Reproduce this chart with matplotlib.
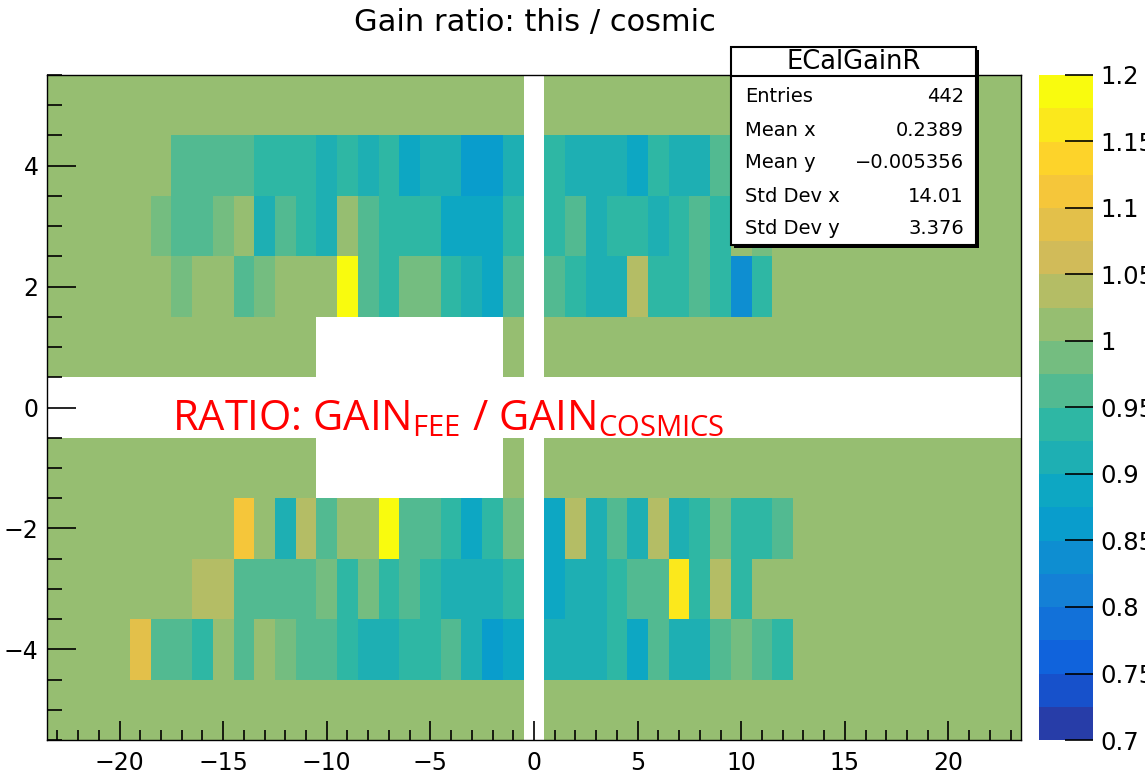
import numpy as np
import matplotlib
matplotlib.use("Agg")
import matplotlib.pyplot as plt
from matplotlib.colors import ListedColormap, BoundaryNorm
from matplotlib.patches import Rectangle
from matplotlib.ticker import MultipleLocator

plt.rcParams['font.family'] = ['DejaVu Sans']
plt.rcParams['mathtext.fontset'] = 'custom'

W, H = 1145, 773

# ---- data: gain ratio per crystal (x = column, y = row) ----
x_bins = np.arange(-23, 24)
y_bins = np.arange(-5, 6)
default_ratio = 1.01          # crystals without a change (green background)
hole_x = np.arange(-10, -1)   # beam hole in rows +-1

row_p4_start = -17
row_p4 = [0.96, 0.96, 0.96, 0.96, 0.94, 0.94, 0.94, 0.91, 0.94, 0.91, 0.94, 0.88, 0.91, 0.91,
          0.86, 0.86, 0.91, 0.94, 0.91, 0.91, 0.91, 0.88, 0.94, 0.91, 0.91, 0.96, 0.94, 0.91]
row_p3_start = -18
row_p3 = [0.99, 0.96, 0.96, 0.99, 1.01, 0.91, 0.96, 0.94, 0.91, 1.01, 0.96, 0.94, 0.94, 0.94,
          0.89, 0.89, 0.89, 0.94, 0.94, 0.96, 0.91, 0.94, 0.94, 0.91, 0.94, 0.96, 0.94, 1.01, 0.99]
row_p2_start = -17
row_p2 = [0.99, 1.01, 1.01, 0.96, 0.99, 1.01, 1.01, 1.01, 1.19, 0.96, 0.94, 0.99, 0.99, 0.94,
          0.91, 0.88, 0.96, 0.96, 0.94, 0.91, 0.91, 1.04, 0.94, 0.94, 0.96, 0.94, 0.84, 0.94]
row_m2_start = -14
row_m2 = [1.11, 1.01, 0.91, 1.04, 0.96, 1.01, 1.01, 1.19, 0.96, 0.96, 0.94, 0.88, 0.94, 0.99,
          0.88, 1.04, 0.91, 0.96, 0.91, 1.04, 0.91, 0.94, 0.99, 0.94, 0.94, 0.96]
row_m3_start = -16
row_m3 = [1.04, 1.04, 0.96, 0.96, 0.96, 0.96, 0.99, 0.94, 0.99, 0.94, 0.96, 0.94, 0.91, 0.91,
          0.91, 0.94, 0.88, 0.91, 0.91, 0.94, 0.96, 0.96, 1.16, 0.94, 1.04, 0.94]
row_m4_start = -19
row_m4 = [1.09, 0.96, 0.96, 0.94, 1.01, 0.96, 1.01, 0.99, 0.96, 0.96, 0.94, 0.91, 0.91, 0.94,
          0.94, 0.96, 0.91, 0.86, 0.88, 0.91, 0.91, 0.91, 0.94, 0.88, 0.96, 0.91, 0.91, 0.96,
          0.99, 0.96, 0.94]

stats_labels = ["Entries", "Mean x", "Mean y", "Std Dev x", "Std Dev y"]
stats_values = ["442", "0.2389", "\u22120.005356", "14.01", "3.376"]

zmin, zmax, ncont = 0.7, 1.2, 20
cbar_ticks = np.arange(0.7, 1.2001, 0.05)

# ---- build the 2D histogram ----
Z = np.full((len(y_bins), len(x_bins)), default_ratio)
mask = np.zeros_like(Z, dtype=bool)
mask[y_bins == 0, :] = True
mask[:, x_bins == 0] = True
for yy in (-1, 1):
    for xx in hole_x:
        mask[y_bins == yy, x_bins == xx] = True


def fill_row(y, x0, vals):
    cols = [x for x in range(x0, 24) if x != 0][:len(vals)]
    for x, v in zip(cols, vals):
        Z[y_bins == y, x_bins == x] = v


fill_row(4, row_p4_start, row_p4)
fill_row(3, row_p3_start, row_p3)
fill_row(2, row_p2_start, row_p2)
fill_row(-2, row_m2_start, row_m2)
fill_row(-3, row_m3_start, row_m3)
fill_row(-4, row_m4_start, row_m4)
Zm = np.ma.array(Z, mask=mask)

# ROOT kBird palette, 255 colours, 20 contour levels
stops = [0.0, 0.125, 0.25, 0.375, 0.5, 0.625, 0.75, 0.875, 1.0]
red = [0.2082, 0.0592, 0.0780, 0.0232, 0.1802, 0.5301, 0.8186, 0.9956, 0.9764]
green = [0.1664, 0.3599, 0.5041, 0.6419, 0.7178, 0.7492, 0.7328, 0.7862, 0.9832]
blue = [0.5293, 0.8684, 0.8385, 0.7914, 0.6425, 0.4662, 0.3499, 0.1968, 0.0539]
level_cols = []
for i in range(ncont):
    idx = min(int((i + 0.99) * 255 / ncont), 254)
    f = idx / 254
    level_cols.append((np.interp(f, stops, red), np.interp(f, stops, green), np.interp(f, stops, blue)))
cmap = ListedColormap(level_cols)
levels = np.linspace(zmin, zmax, ncont + 1)
norm = BoundaryNorm(levels, ncont)

fig = plt.figure(figsize=(W / 100, H / 100), dpi=100)
ax = fig.add_axes([47 / W, (H - 740) / H, (1021 - 47) / W, (740 - 75) / H])
xe = np.arange(-23.5, 24.0, 1.0)
ye = np.arange(-5.5, 6.0, 1.0)
ax.pcolormesh(xe, ye, Zm, cmap=cmap, norm=norm)
ax.set_xlim(-23.5, 23.5)
ax.set_ylim(-5.5, 5.5)

ax.xaxis.set_major_locator(MultipleLocator(5))
ax.xaxis.set_minor_locator(MultipleLocator(1))
ax.yaxis.set_major_locator(MultipleLocator(2))
ax.yaxis.set_minor_locator(MultipleLocator(0.5))
ax.tick_params(axis='both', which='both', direction='in', top=False, right=False,
               labelsize=17, width=1.2)
ax.tick_params(axis='x', which='major', length=14, pad=8)
ax.tick_params(axis='x', which='minor', length=7)
ax.tick_params(axis='y', which='major', length=21, pad=6)
ax.tick_params(axis='y', which='minor', length=11)
for s in ax.spines.values():
    s.set_linewidth(1.0)

# colour bar
cax = fig.add_axes([1039 / W, (H - 740) / H, (1093 - 1039) / W, (740 - 75) / H])
cb = matplotlib.colorbar.ColorbarBase(cax, cmap=cmap, norm=norm, boundaries=levels,
                                      ticks=cbar_ticks, orientation='vertical')
cb.set_ticklabels(["%g" % t for t in cbar_ticks])
cb.outline.set_visible(False)
cax.tick_params(direction='in', length=20, width=1.2, labelsize=17.5, pad=5, right=True, left=False)
cax.minorticks_off()

# title
fig.text(535 / W, 1 - 22 / H, "Gain ratio: this / cosmic", ha='center', va='center', fontsize=22)

# red annotation
ax.text(-17.45, -0.38, r"RATIO: GAIN$_\mathregular{FEE}$ / GAIN$_\mathregular{COSMICS}$",
        color='red', fontsize=30, family=['Open Sans', 'DejaVu Sans'], ha='left', va='baseline')

# stats box
bx0, bx1, by0, by1 = 731, 976, 47, 245
fig.patches.append(Rectangle(((bx0 + 3) / W, 1 - (by1 + 3) / H), (bx1 - bx0) / W, (by1 - by0) / H,
                             transform=fig.transFigure, facecolor='black', edgecolor='none', zorder=5))
fig.patches.append(Rectangle((bx0 / W, 1 - by1 / H), (bx1 - bx0) / W, (by1 - by0) / H,
                             transform=fig.transFigure, facecolor='white', edgecolor='black',
                             linewidth=1.5, zorder=6))
fig.lines.append(plt.Line2D([bx0 / W, bx1 / W], [1 - 76 / H, 1 - 76 / H], transform=fig.transFigure,
                            color='black', linewidth=1.5, zorder=7))
fig.text((bx0 + bx1) / 2 / W, 1 - 62 / H, "ECalGainR", ha='center', va='center', fontsize=18.5, zorder=8)
row_y = [97, 130, 162, 196, 228]
for lab, val, yy in zip(stats_labels, stats_values, row_y):
    fig.text(745 / W, 1 - yy / H, lab, ha='left', va='center', fontsize=14, zorder=8)
    fig.text(964 / W, 1 - yy / H, val, ha='right', va='center', fontsize=14, zorder=8)

fig.savefig("out.png", dpi=100)
